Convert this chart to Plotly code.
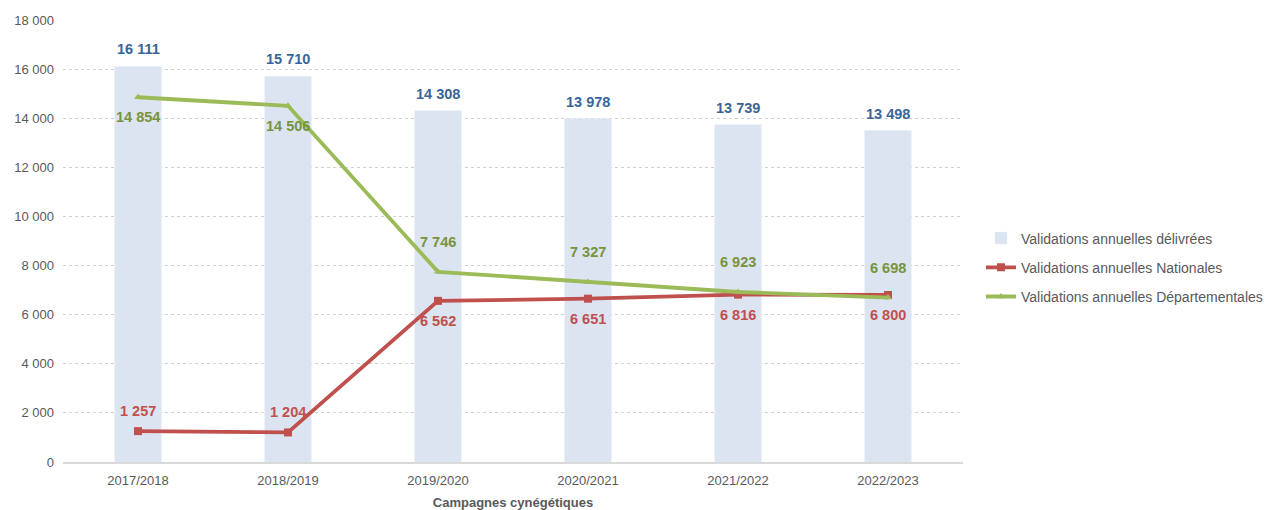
import plotly.graph_objects as go

# ---------- données ----------
campagnes = ["2017/2018", "2018/2019", "2019/2020", "2020/2021", "2021/2022", "2022/2023"]
delivrees = [16111, 15710, 14308, 13978, 13739, 13498]
nationales = [1257, 1204, 6562, 6651, 6816, 6800]
departementales = [14854, 14506, 7746, 7327, 6923, 6698]

# position des étiquettes : 1 = au-dessus, -1 = en dessous
pos_nat = [1, 1, -1, -1, -1, -1]
pos_dep = [-1, -1, 1, 1, 1, 1]

y_ticks = list(range(0, 18001, 2000))


def fmt(v):
    return f"{v:,}".replace(",", " ")


BLEU_BARRE = "#dbe4f0"
ROUGE = "#c0504d"
VERT = "#9bbb59"
FONT = "Liberation Sans, Arial, sans-serif"

fig = go.Figure()

fig.add_trace(go.Bar(
    x=campagnes, y=delivrees, name="Validations annuelles délivrées",
    marker_color=BLEU_BARRE, width=0.31, legendgroup="a",
))
fig.add_trace(go.Scatter(
    x=campagnes, y=nationales, name="Validations annuelles Nationales",
    mode="lines+markers", line=dict(color=ROUGE, width=3.8),
    marker=dict(symbol="square", size=8, color=ROUGE), legendgroup="b",
))
fig.add_trace(go.Scatter(
    x=campagnes, y=departementales, name="Validations annuelles Départementales",
    mode="lines+markers", line=dict(color=VERT, width=3.8),
    marker=dict(symbol="triangle-up", size=7, color=VERT), legendgroup="c",
))

# ---- étiquettes de données ----
for c, v in zip(campagnes, delivrees):
    fig.add_annotation(x=c, y=v, text=f"<b>{fmt(v)}</b>", showarrow=False,
                       yshift=17, font=dict(size=14.5, color="#3b6496", family=FONT))
for c, v, p in zip(campagnes, nationales, pos_nat):
    fig.add_annotation(x=c, y=v, text=f"<b>{fmt(v)}</b>", showarrow=False,
                       yshift=20 * p, font=dict(size=14.5, color=ROUGE, family=FONT))
for c, v, p in zip(campagnes, departementales, pos_dep):
    fig.add_annotation(x=c, y=v, text=f"<b>{fmt(v)}</b>", showarrow=False,
                       yshift=(30 if p > 0 else -20), font=dict(size=14.5, color="#77933c", family=FONT))

# la page ajoute ~8 px de marge autour du graphique : on compense
fig.update_layout(
    width=1268, height=502,
    plot_bgcolor="white", paper_bgcolor="white",
    margin=dict(l=55, r=313, t=12, b=48, autoexpand=False),
    font=dict(family=FONT, size=13, color="#595959"),
    bargap=0.69,
    showlegend=True,
    legend=dict(x=1.02, y=0.44, xanchor="left", yanchor="middle",
                font=dict(size=14, color="#595959"), tracegroupgap=8,
                itemwidth=30),
)
fig.update_xaxes(
    showline=True, linecolor="#d9d9d9", linewidth=1.5, showgrid=False,
    ticks="", tickfont=dict(size=13, color="#595959"), automargin=False,
    ticklabelstandoff=6,
    title=dict(text="<b>Campagnes cynégétiques</b>", font=dict(size=13, color="#595959"), standoff=14),
)
fig.update_yaxes(
    range=[0, 18000], tickvals=y_ticks, ticktext=[fmt(v) for v in y_ticks],
    showgrid=True, gridcolor="#cfcfcf", griddash="dot", gridwidth=1,
    zeroline=False, showline=False, tickfont=dict(size=13, color="#595959"),
    ticklabelstandoff=8, automargin=False,
)

fig.write_html("out.html")
